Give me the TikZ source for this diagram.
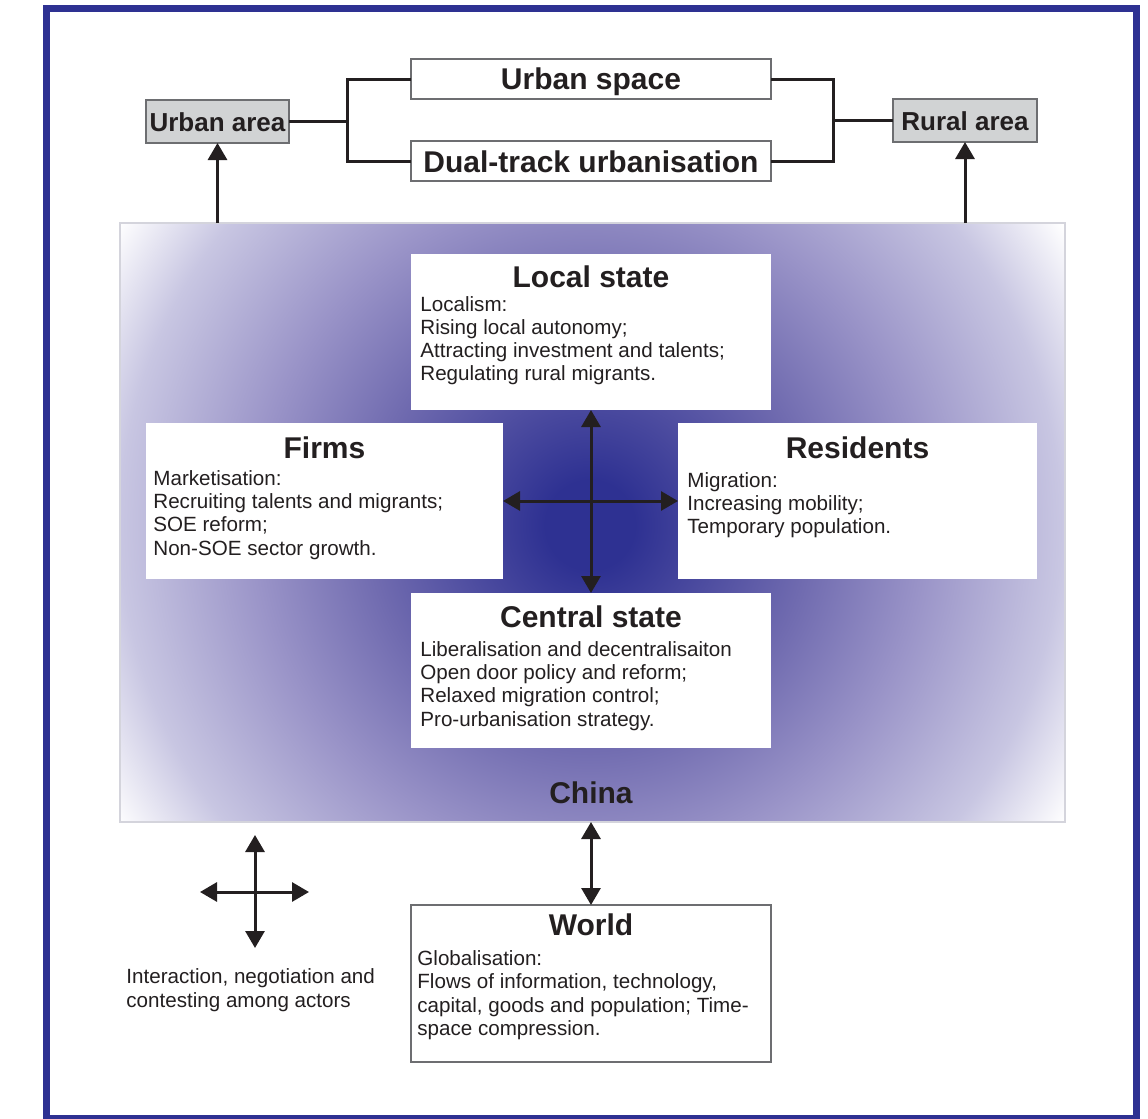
\documentclass[tikz,border=0pt]{standalone}
\usepackage{fontspec}
\setmainfont{Liberation Sans}
\usetikzlibrary{arrows.meta}
\definecolor{frameblue}{HTML}{2E3192}
\definecolor{ink}{HTML}{231F20}
\definecolor{cdark}{HTML}{2E3192}
\definecolor{cmid}{HTML}{6F6AAF}
\definecolor{clav}{HTML}{9A94C8}
\definecolor{clight}{HTML}{C8C6E2}
\definecolor{boxgray}{HTML}{D1D3D4}
\definecolor{edgegray}{HTML}{6D6E71}
\definecolor{chinaedge}{HTML}{D4D4DC}
\pgfdeclareradialshading{chinashade}{\pgfpoint{0bp}{0bp}}{color(0bp)=(cdark); color(2bp)=(cdark); color(9.7bp)=(cmid); color(15bp)=(clav); color(21bp)=(clight); color(25bp)=(white); color(50bp)=(white)}
\begin{document}
\begin{tikzpicture}[x=0.5pt,y=-0.5pt,
  box/.style={rectangle, inner sep=0pt, outer sep=0pt},
  actor/.style={box, fill=white},
  thinbox/.style={box, draw=edgegray, line width=0.6pt, fill=white},
  areabox/.style={box, draw=edgegray, line width=0.6pt, fill=boxgray},
  ttl/.style={font=\fontsize{15}{18}\selectfont\bfseries, text=ink, inner sep=0pt, anchor=base},
  areattl/.style={font=\fontsize{13}{16}\selectfont\bfseries, text=ink, inner sep=0pt, anchor=base},
  body/.style={font=\fontsize{10.3}{12}\selectfont, text=ink, inner sep=0pt, anchor=base west},
  link/.style={draw=ink, line width=1.5pt},
  twoway/.style={link, {Triangle[length=8.5pt,width=9.5pt]}-{Triangle[length=8.5pt,width=9.5pt]}},
  oneway/.style={link, -{Triangle[length=8.5pt,width=9.5pt]}}
]
\useasboundingbox (0,0) rectangle (1148,1119);
\fill[white] (0,0) rectangle (1148,1119);
% outer frame
\draw[frameblue, line width=3.5pt] (46.5,8.5) rectangle (1136,1118.5);

% China background
\begin{scope}
  \clip (120,223) rectangle (1065,822);
  \shade[shading=chinashade] (30,-35) rectangle (1150,1085);
\end{scope}
\node[box, draw=chinaedge, line width=0.6pt, minimum width=472.5pt, minimum height=299.5pt] (china) at (592.5,522.5) {};
\node[ttl] (chinalabel) at (591,803) {China};

% top boxes
\node[thinbox, minimum width=180pt, minimum height=20pt] (urbanspace) at (591,79) {};
\node[ttl] (urbanspacet) at (591,90) {Urban space};
\node[thinbox, minimum width=180pt, minimum height=20pt] (dualtrack) at (591,161) {};
\node[ttl] (dualtrackt) at (591,172) {Dual-track urbanisation};
\node[areabox, minimum width=71.5pt, minimum height=21.5pt] (urbanarea) at (217.5,121.5) {};
\node[areattl] (urbanareat) at (217.5,131) {Urban area};
\node[areabox, minimum width=72pt, minimum height=21.5pt] (ruralarea) at (965,120.5) {};
\node[areattl] (ruralareat) at (965,130) {Rural area};

\coordinate (bkL) at (347,120);
\coordinate (bkR) at (833,120);
\draw[link] (urbanspace.west) -| (bkL) |- (dualtrack.west);
\draw[link] (urbanarea.east) -- (urbanarea.east -| bkL);
\draw[link] (urbanspace.east) -| (bkR) |- (dualtrack.east);
\draw[link] (ruralarea.west) -- (ruralarea.west -| bkR);

\draw[oneway] (china.north -| urbanarea.south) -- (urbanarea.south);
\draw[oneway] (china.north -| ruralarea.south) -- (ruralarea.south);

% actor boxes
\node[actor, minimum width=180pt, minimum height=78pt] (local) at (591,332) {};
\node[ttl] (localt) at (591,287) {Local state};
\node[body] (l1) at (420,311) {Localism:};
\node[body] (l2) at (420,334) {Rising local autonomy;};
\node[body] (l3) at (420,357) {Attracting investment and talents;};
\node[body] (l4) at (420,380) {Regulating rural migrants.};

\node[actor, minimum width=178.5pt, minimum height=78pt] (firms) at (324.5,501) {};
\node[ttl] (firmst) at (324.5,458) {Firms};
\node[body] (f1) at (153,485) {Marketisation:};
\node[body] (f2) at (153,508) {Recruiting talents and migrants;};
\node[body] (f3) at (153,531) {SOE reform;};
\node[body] (f4) at (153,555) {Non-SOE sector growth.};

\node[actor, minimum width=179.5pt, minimum height=78pt] (residents) at (857.5,501) {};
\node[ttl] (residentst) at (857.5,458) {Residents};
\node[body] (r1) at (687,487) {Migration:};
\node[body] (r2) at (687,510) {Increasing mobility;};
\node[body] (r3) at (687,533) {Temporary population.};

\node[actor, minimum width=180pt, minimum height=77.5pt] (central) at (591,670.5) {};
\node[ttl] (centralt) at (591,627) {Central state};
\node[body] (c1) at (420,656) {Liberalisation and decentralisaiton};
\node[body] (c2) at (420,679) {Open door policy and reform;};
\node[body] (c3) at (420,702) {Relaxed migration control;};
\node[body] (c4) at (420,726) {Pro-urbanisation strategy.};

\draw[twoway] (local.south) -- (central.north);
\draw[twoway] (firms.east) -- (residents.west);

% world
\node[thinbox, minimum width=180pt, minimum height=78.5pt] (world) at (591,983.5) {};
\node[ttl] (worldt) at (591,935) {World};
\node[body] (w1) at (417,965) {Globalisation:};
\node[body] (w2) at (417,988) {Flows of information, technology,};
\node[body] (w3) at (417,1012) {capital, goods and population; Time-};
\node[body] (w4) at (417,1035) {space compression.};
\draw[twoway] (china.south -| world.north) -- (world.north);

% legend
\coordinate (lgN) at (255,835);
\coordinate (lgS) at (255,948);
\coordinate (lgW) at (200,892);
\coordinate (lgE) at (309,892);
\draw[twoway] (lgN) -- (lgS);
\draw[twoway] (lgW) -- (lgE);
\node[body] (lg1) at (126,983) {Interaction, negotiation and};
\node[body] (lg2) at (126,1007) {contesting among actors};
\end{tikzpicture}
\end{document}
